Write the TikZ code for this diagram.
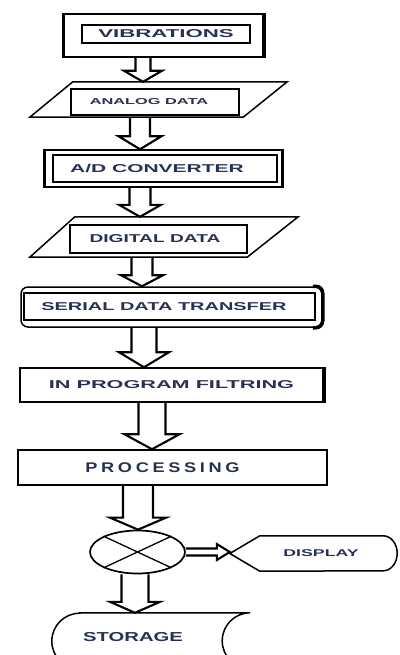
\documentclass[tikz,border=0pt]{standalone}
\usepackage{fontspec}
\usepackage{graphicx}
\usetikzlibrary{calc,shapes.geometric}

\newfontfamily\flowfont{Liberation Sans}
\newcommand{\wide}[2]{\scalebox{#1}[1]{#2}}
\definecolor{txtcol}{RGB}{40,48,85}

\begin{document}
\begin{tikzpicture}[x=1pt,y=-1pt]
		\tikzset{outer/.style = {draw, line width=1.5pt, inner sep=0pt}}
		\tikzset{inner/.style = {draw, line width=1.1pt, inner sep=0pt, text=txtcol}}
		\tikzset{sidebar/.style = {line width=3.5pt}}
		\tikzset{lbl/.style = {text=txtcol, font={\flowfont\bfseries\fontsize{#1}{#1}\selectfont}}}
		\tikzset{hollow/.style n args = {3}{line width=2.1pt, to path={
			(\tikztostart) coordinate (hs) (\tikztotarget) coordinate (ht)
			($(hs)!#1!-90:(ht)$) -- ($(ht)!#3!(hs)!#1!90:(hs)$) -- ($(ht)!#3!(hs)!#2!90:(hs)$) -- (ht)
			-- ($(ht)!#3!(hs)!#2!-90:(hs)$) -- ($(ht)!#3!(hs)!#1!-90:(hs)$) -- ($(hs)!#1!90:(ht)$)}}}
		
		\useasboundingbox (0,0) rectangle (399,655);
		
		% blocks
		\node[outer, minimum width=199, minimum height=43]  (vib) at (163.5, 35.5) {};
		\node[inner, lbl=11.4, minimum width=168, minimum height=18]  (vibtxt) at (166, 34) {\wide{1.95}{VIBRATIONS}};
		\draw[sidebar] (vib.north west) -- (vib.south west);
		\draw[sidebar] (vib.north east) -- (vib.south east);
		
		\node[minimum width=257, minimum height=35, inner sep=0pt]  (analog) at (158.5, 99.5) {};
		\draw[line width=1.5pt] (analog.south west) -- ($(analog.south east)+(-44,0)$) -- (analog.north east) -- ($(analog.north west)+(43,0)$) -- cycle;
		\node[inner, lbl=8.6, minimum width=168, minimum height=26]  (analogtxt) at (155, 102) {\hspace*{-12pt}\wide{1.9}{ANALOG DATA}};
		
		\node[outer, minimum width=237, minimum height=37]  (adc) at (163.5, 168.5) {};
		\node[inner, lbl=11.4, minimum width=224, minimum height=27]  (adctxt) at (165, 168.5) {\hspace*{-16pt}\wide{1.84}{A/D CONVERTER}};
		\draw[sidebar] (adc.north west) -- (adc.south west);
		\draw[line width=2.5pt] (adc.north east) -- (adc.south east);
		
		\node[minimum width=268, minimum height=40, inner sep=0pt]  (digital) at (164, 237) {};
		\draw[line width=1.5pt] (digital.south west) -- ($(digital.south east)+(-51,0)$) -- (digital.north east) -- ($(digital.north west)+(45,0)$) -- cycle;
		\node[inner, lbl=11.4, minimum width=177, minimum height=28]  (digitaltxt) at (158.5, 239) {\hspace*{-7pt}\wide{1.68}{DIGITAL DATA}};
		
		\node[outer, rounded corners=7pt, minimum width=301, minimum height=40]  (serial) at (171.5, 307) {};
		\node[inner, lbl=11.4, minimum width=291, minimum height=27]  (serialtxt) at (169.5, 306.5) {\hspace*{-11pt}\wide{1.75}{SERIAL DATA TRANSFER}};
		\draw[sidebar, rounded corners=7pt] ($(serial.north east)+(-10,0)$) -- (serial.north east) -- (serial.south east) -- ($(serial.south east)+(-10,0)$);
		
		\node[outer, lbl=11.4, minimum width=303, minimum height=34]  (filter) at (171.5, 385) {\wide{1.9}{IN PROGRAM FILTRING}};
		\draw[sidebar] (filter.north east) -- (filter.south east);
		
		\node[outer, text=txtcol, font={\flowfont\bfseries\fontsize{14}{14}\selectfont\addfontfeature{LetterSpace=20}}, minimum width=309, minimum height=35]  (proc) at (172.5, 467.5) {\hspace*{-20pt}\wide{1.3}{PROCESSING}};
		
		\node[draw, ellipse, line width=1.7pt, minimum width=95, minimum height=43, inner sep=0pt]  (junction) at (137.5, 552) {};
		\draw[line width=1.3pt] (junction.155) -- (junction.-25) (junction.25) -- (junction.-155);
		
		\node[lbl=9.8, minimum width=167, minimum height=35, inner sep=0pt]  (display) at (313.5, 553.5) {\hspace*{15pt}\wide{1.81}{DISPLAY}};
		\draw[line width=1.5pt] (display.west) -- ($(display.north west)+(30,0)$) -- ($(display.north east)+(-14,0)$)
			arc[start angle=-90, end angle=90, x radius=14, y radius=17.5] -- ($(display.south west)+(30,0)$) -- cycle;
		
		\node[minimum width=170, minimum height=56, inner sep=0pt]  (storage) at (165, 641) {};
		\node[lbl=13]  (storagetxt) at (133, 637) {\wide{1.56}{STORAGE}};
		\draw[line width=1.5pt] (storage.north west) -- (storage.north east)
			arc[start angle=-90, end angle=-270, radius=28] -- (storage.south west)
			arc[start angle=90, end angle=270, radius=28] -- cycle;
		
		% flow
		\draw[hollow={7.5pt}{19pt}{11pt}] ([xshift=-20.5pt]vib.south) to ([xshift=-20.5pt]vib.south |- analog.north);
		\draw[hollow={10pt}{21.5pt}{13pt}] ([xshift=-18.5pt]analog.south) to ([xshift=-18.5pt]analog.south |- adc.north);
		\draw[hollow={10.5pt}{21pt}{12pt}] ([xshift=-23.5pt]adc.south) to ([xshift=-23.5pt]adc.south |- digital.north);
		\draw[hollow={10.5pt}{21pt}{11pt}] ([xshift=-22pt]digital.south) to ([xshift=-22pt]digital.south |- serial.north);
		\draw[hollow={12.5pt}{25pt}{15pt}] ([xshift=-27.5pt]serial.south) to ([xshift=-27.5pt]serial.south |- filter.north);
		\draw[hollow={13.5pt}{27.5pt}{15pt}] ([xshift=-19.5pt]filter.south) to ([xshift=-19.5pt]filter.south |- proc.north);
		\draw[hollow={15pt}{28pt}{12pt}] ([xshift=-34.5pt]proc.south) to ([xshift=-34.5pt]proc.south |- junction.north);
		\draw[hollow={3.5pt}{8pt}{13pt}] (junction.east) to (junction.east -| display.west);
		\draw[hollow={13.5pt}{25pt}{11pt}] ([xshift=-2.5pt]junction.south) to ([xshift=-2.5pt]junction.south |- storage.north);
		\end{tikzpicture}
\end{document}
